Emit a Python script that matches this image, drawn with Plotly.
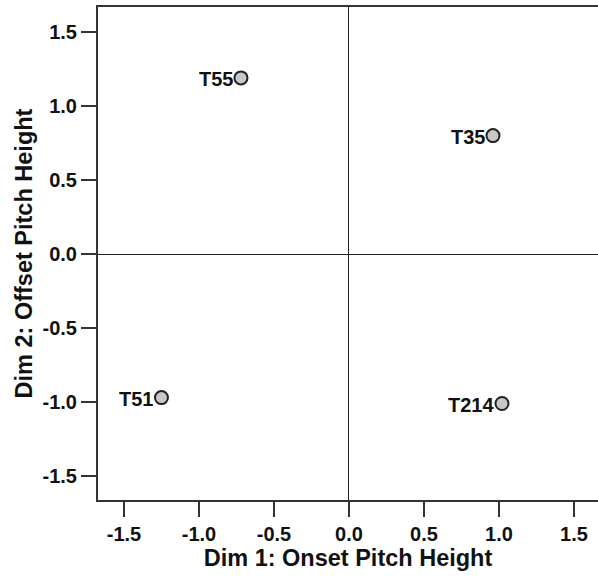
import plotly.graph_objects as go

# MDS solution: stimulus coordinates on two dimensions
stimuli = ["T55", "T35", "T51", "T214"]
dim1 = [-0.72, 0.96, -1.25, 1.02]
dim2 = [1.19, 0.80, -0.97, -1.01]

tick_vals = [-1.5, -1.0, -0.5, 0.0, 0.5, 1.0, 1.5]
tick_text = ["-1.5", "-1.0", "-0.5", "0.0", "0.5", "1.0", "1.5"]

FONT = "Liberation Sans, Arial, Helvetica, sans-serif"

fig = go.Figure(
    go.Scatter(
        x=dim1,
        y=dim2,
        mode="markers",
        marker=dict(size=13, color="#c8c8c8", line=dict(color="#222", width=2)),
        cliponaxis=False,
        hoverinfo="skip",
    )
)

# stimulus labels sit just to the left of each point
for sx, sy, name in zip(dim1, dim2, stimuli):
    fig.add_annotation(
        x=sx, y=sy, text=name, showarrow=False,
        xanchor="right", yanchor="middle", xshift=-6, yshift=-1,
        font=dict(family=FONT, size=20, color="#111", weight="bold"),
    )

axis_common = dict(
    tickvals=tick_vals,
    ticktext=tick_text,
    ticks="outside",
    ticklen=15,
    tickwidth=1.5,
    tickcolor="#333",
    tickfont=dict(family=FONT, size=20, color="#111", weight="bold"),
    showgrid=False,
    zeroline=True,
    zerolinecolor="#222",
    zerolinewidth=1.2,
    showline=True,
    linecolor="#333",
    linewidth=2,
)

fig.update_xaxes(
    range=[-1.673, 1.66],
    mirror=True,
    title=dict(text="Dim 1: Onset Pitch Height",
               font=dict(family=FONT, size=23.5, color="#111", weight="bold"),
               standoff=1),
    **axis_common,
)
fig.update_yaxes(
    range=[-1.662, 1.669],
    mirror=False,
    title=dict(text="Dim 2: Offset Pitch Height",
               font=dict(family=FONT, size=23.5, color="#111", weight="bold"),
               standoff=3),
    **axis_common,
)

fig.update_layout(
    width=598,
    height=577,
    margin=dict(l=98, r=0, t=7, b=77),
    plot_bgcolor="white",
    paper_bgcolor="white",
    showlegend=False,
)

fig.write_html("out.html", config={"displayModeBar": False})
